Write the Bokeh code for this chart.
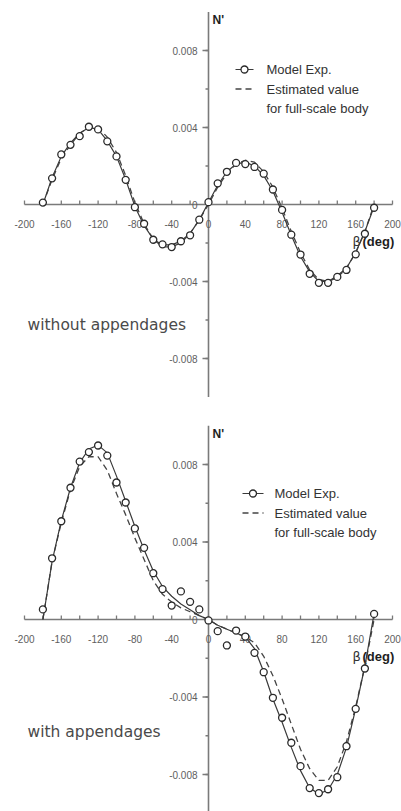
from bokeh.plotting import figure
from bokeh.models import Range1d
from bokeh.layouts import column
from bokeh.embed import file_html
from bokeh.resources import INLINE
from bokeh.core.properties import value

# ---------------- data ----------------
beta = [-180, -170, -160, -150, -140, -130, -120, -110, -100, -90,
        -80, -70, -60, -50, -40, -30, -20, -10, 0, 10,
        20, 30, 40, 50, 60, 70, 80, 90, 100, 110,
        120, 130, 140, 150, 160, 170, 180]

# without appendages
top_exp = [0.0001, 0.00136, 0.0026, 0.0031, 0.00355, 0.00404, 0.0039, 0.00328, 0.0025, 0.00128,
           -0.00014, -0.0010, -0.00183, -0.00207, -0.00221, -0.00191, -0.0016, -0.00079, 0.00012, 0.0011,
           0.0017, 0.00216, 0.0021, 0.00195, 0.0016, 0.00078, -0.00028, -0.00157, -0.0026, -0.0036,
           -0.00407, -0.00407, -0.00376, -0.0034, -0.00259, -0.00152, -0.00017]
top_fit = [0.0, 0.0014, 0.0025, 0.0032, 0.0037, 0.0040, 0.0039, 0.0033, 0.0025, 0.0013,
           -0.0001, -0.0011, -0.0018, -0.0021, -0.0021, -0.0019, -0.0015, -0.0008, 0.0001, 0.0010,
           0.0017, 0.0021, 0.0022, 0.0020, 0.0015, 0.0007, -0.0004, -0.0016, -0.0027, -0.0035,
           -0.0040, -0.0040, -0.0037, -0.0033, -0.0025, -0.0014, -0.0001]
top_est = [0.0, 0.0013, 0.0024, 0.0031, 0.0037, 0.0040, 0.0040, 0.0035, 0.0027, 0.0015,
           0.0001, -0.0010, -0.0018, -0.0022, -0.0022, -0.0020, -0.0015, -0.0008, 0.0, 0.0009,
           0.0016, 0.0021, 0.0023, 0.0022, 0.0017, 0.0009, -0.0002, -0.0014, -0.0025, -0.0034,
           -0.0039, -0.0040, -0.0038, -0.0033, -0.0025, -0.0014, 0.0]

# with appendages
bot_exp = [0.00052, 0.00316, 0.00507, 0.0068, 0.00815, 0.00864, 0.00898, 0.00846, 0.00707, 0.00604,
           0.0047, 0.0037, 0.00239, 0.00157, 0.00072, 0.00145, 0.00091, 0.00052, -0.00005, -0.0006,
           -0.00134, -0.00057, -0.00088, -0.00172, -0.00272, -0.00404, -0.00507, -0.00636, -0.00757, -0.0087,
           -0.00896, -0.00876, -0.00814, -0.00654, -0.00461, -0.00253, 0.00029]
bot_fit = [0.0, 0.0030, 0.0051, 0.0068, 0.0081, 0.0088, 0.0090, 0.0086, 0.0074, 0.0061,
           0.0048, 0.0036, 0.0025, 0.0017, 0.0012, 0.0008, 0.0005, 0.0002, 0.0, -0.0003,
           -0.0005, -0.0007, -0.0009, -0.0015, -0.0027, -0.0041, -0.0053, -0.0066, -0.0078, -0.0087,
           -0.0090, -0.0088, -0.0080, -0.0066, -0.0046, -0.0024, 0.0003]
bot_est = [0.0, 0.0030, 0.0050, 0.0067, 0.0079, 0.0084, 0.0084, 0.0077, 0.0065, 0.0054,
           0.0042, 0.0031, 0.0020, 0.0013, 0.0009, 0.0006, 0.0004, 0.0002, 0.0, -0.0003,
           -0.0005, -0.0007, -0.0009, -0.0012, -0.0019, -0.0029, -0.0041, -0.0054, -0.0067, -0.0077,
           -0.0083, -0.0083, -0.0076, -0.0063, -0.0045, -0.0024, 0.0]

x_ticks = list(range(-200, 201, 20))
x_label_vals = [-200, -160, -120, -80, -40, 0, 40, 80, 120, 160, 200]
x_label_text = ["-200", "-160", "-120", "-80", "-40", "0", "40", "80", "120", "160", "200"]
y_ticks = [-0.008, -0.006, -0.004, -0.002, 0.002, 0.004, 0.006, 0.008]
y_major = [-0.008, -0.004, 0.004, 0.008]
y_label_vals = [0.008, 0.004, 0.0, -0.004, -0.008]
y_label_text = ["0.008", "0.004", "0", "-0.004", "-0.008"]
x_lim = [-200, 200]
y_lim = [-0.01, 0.01]

W = 401
AX_X = 208          # pixel column of beta = 0
PX_PER_DEG = 0.92

AXIS_COL = "#7a7a7a"
TICK_TXT = "#5e5e5e"
INK = "#2a2a2a"
FONT = value("Liberation Sans")


def make_panel(H, axis_py, ppu, exp, fit, est, caption, cap_dy, leg_dy, leg_x0, leg_x1, leg_tx):
    def X(px):
        return (px - AX_X) / PX_PER_DEG

    def Y(py):
        return (axis_py - py) / ppu

    p = figure(width=W, height=H, x_range=Range1d(X(0), X(W)), y_range=Range1d(Y(H), Y(0)),
               min_border=0, toolbar_location=None, output_backend="svg",
               x_axis_location=None, y_axis_location=None, outline_line_color=None,
               background_fill_color="white", border_fill_color="white")
    p.grid.grid_line_color = None

    # axes through the origin
    p.line(x=x_lim, y=[0, 0], line_color=AXIS_COL, line_width=1.6)
    p.line(x=[0, 0], y=y_lim, line_color=AXIS_COL, line_width=1.6)
    up = 4 / ppu
    p.segment(x0=x_ticks, y0=[0] * len(x_ticks), x1=x_ticks, y1=[up] * len(x_ticks),
              line_color=AXIS_COL, line_width=1.3)
    for ys, L in ((y_ticks, 3), (y_major, 6)):
        p.segment(x0=[0] * len(ys), y0=ys, x1=[-L / PX_PER_DEG] * len(ys), y1=ys,
                  line_color=AXIS_COL, line_width=1.3)

    # tick labels
    p.text(x=x_label_vals, y=[0] * len(x_label_vals), text=x_label_text, y_offset=19,
           text_align="center", text_baseline="middle", text_font=FONT,
           text_font_size="10px", text_color=TICK_TXT)
    p.text(x=[0] * len(y_label_vals), y=y_label_vals, text=y_label_text, x_offset=-11,
           text_align="right", text_baseline="middle", text_font=FONT,
           text_font_size="10px", text_color=TICK_TXT)

    # axis titles
    p.text(x=[0], y=[y_lim[1]], text=["N'"], x_offset=4, y_offset=1, text_align="left",
           text_baseline="top", text_font=FONT, text_font_style="bold",
           text_font_size="12px", text_color="#1e1e1e")
    p.text(x=[X(352)], y=[0], text=["\u03b2"], y_offset=37, text_align="left",
           text_baseline="middle", text_font=value("DejaVu Sans"), text_font_size="13px",
           text_color="#333333")
    p.text(x=[X(362)], y=[0], text=["(deg)"], y_offset=37, text_align="left",
           text_baseline="middle", text_font=FONT, text_font_style="bold",
           text_font_size="13px", text_color="#1e1e1e")

    # data
    p.line(x=beta, y=est, line_color="#444444", line_width=1.3, line_dash="6 4")
    p.line(x=beta, y=fit, line_color="#3a3a3a", line_width=1.2)
    p.scatter(x=beta, y=exp, marker="circle", size=7, fill_color="white",
              line_color=INK, line_width=1.3)

    # caption
    p.text(x=[X(27)], y=[0], text=[caption], y_offset=cap_dy, text_align="left",
           text_baseline="middle", text_font=value("DejaVu Sans"),
           text_font_size="15.5px", text_color="#4a4a4a")

    # legend
    ly1 = axis_py - leg_dy
    ly2 = ly1 + 19.5
    ly3 = ly2 + 19
    p.line(x=[X(leg_x0), X(leg_x1)], y=[Y(ly1), Y(ly1)], line_color="#3a3a3a", line_width=1.2)
    p.scatter(x=[X((leg_x0 + leg_x1) / 2)], y=[Y(ly1)], marker="circle", size=7,
              fill_color="white", line_color=INK, line_width=1.3)
    p.line(x=[X(leg_x0), X(leg_x1)], y=[Y(ly2), Y(ly2)], line_color="#444444",
           line_width=1.3, line_dash="6 4")
    p.text(x=[X(leg_tx)] * 3, y=[Y(ly1), Y(ly2), Y(ly3)],
           text=["Model Exp.", "Estimated value", "for full-scale body"],
           text_align="left", text_baseline="middle", text_font=FONT,
           text_font_size="13px", text_color="#333333")
    return p


p1 = make_panel(412, 204, 19250.0, top_exp, top_fit, top_est,
                "without appendages", 120, 135, 235, 253, 266)
p2 = make_panel(399, 207, 19375.0, bot_exp, bot_fit, bot_est,
                "with appendages", 112, 126, 242, 263, 274)

layout = column(p1, p2, spacing=0)
open("out.html", "w").write(file_html(layout, INLINE))
